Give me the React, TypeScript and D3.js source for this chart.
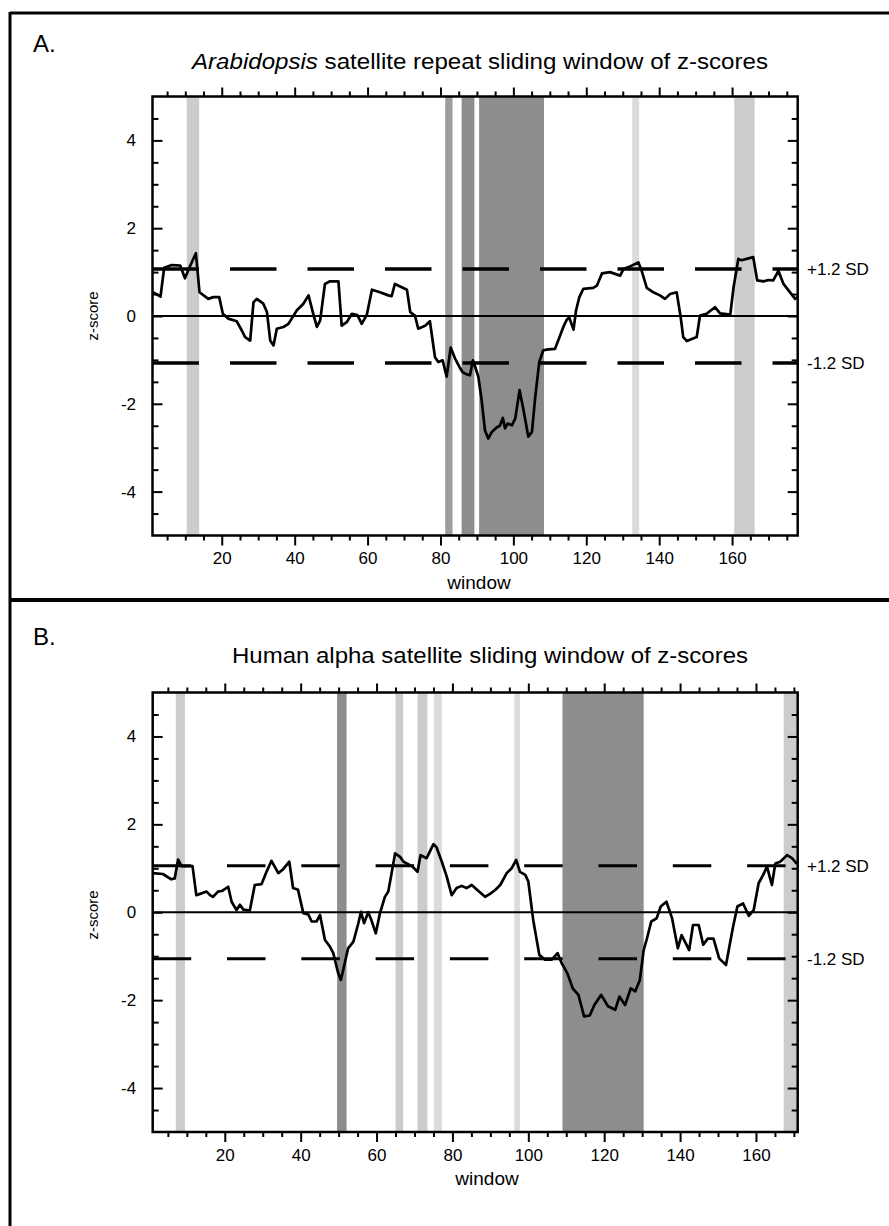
import React, { useRef, useEffect } from 'react';
import * as d3 from 'd3';

// panel A: Arabidopsis satellite repeat, traced vertices (window, z-score)
const aWindows = [1, 3.2, 4.2, 6.3, 8.6, 9.9, 11.1, 12.9, 13.9, 16.3, 17.7, 19.3, 20.3, 21.8, 24.1, 25.5, 26.4, 27.8, 28.7, 29.6, 31.4, 32.4, 33.3, 34.2, 35.1, 36.9, 38.3, 40.6, 42.4, 43.8, 45.1, 46.1, 47, 48.3, 49.7, 52, 52.9, 54.3, 55.7, 57.2, 58.4, 59.8, 61.2, 63.4, 65.7, 66.6, 67.5, 69.8, 70.8, 71.7, 73, 73.9, 75.8, 77.1, 78.5, 79.4, 80.6, 81.7, 82.8, 84, 85.2, 86.1, 87.2, 88.1, 88.9, 89.5, 90.4, 91.3, 92.2, 93.1, 94.1, 95.4, 96.3, 97.1, 97.7, 98.4, 99.6, 100.5, 101.7, 102.8, 104.1, 105.1, 106, 107.1, 108.2, 109.6, 111.4, 112.3, 113.7, 114.6, 115.3, 116.5, 117.2, 118.1, 119.2, 121.9, 122.9, 124.3, 126.5, 129.3, 130.2, 132, 134.3, 135.2, 136.6, 138.4, 140.2, 141.6, 143, 144.8, 145.9, 146.6, 147.6, 150.3, 151.2, 153, 155.3, 156.7, 159.5, 160.4, 161.7, 162.6, 164, 165.8, 166.9, 168.6, 170, 171.3, 172.7, 174.1, 175.9, 177.3, 178];
const aScores = [0.55, 0.44, 1.1, 1.16, 1.15, 0.86, 1.1, 1.43, 0.54, 0.39, 0.43, 0.43, 0.05, -0.06, -0.12, -0.33, -0.48, -0.56, 0.31, 0.39, 0.28, 0.09, -0.56, -0.67, -0.29, -0.25, -0.18, 0.13, 0.28, 0.47, 0.05, -0.25, -0.1, 0.73, 0.79, 0.79, -0.22, -0.14, 0.05, 0.02, -0.18, 0.03, 0.6, 0.54, 0.47, 0.45, 0.73, 0.64, 0.6, 0.09, 0.01, -0.29, -0.22, -0.12, -0.94, -1.05, -1.01, -1.38, -0.72, -0.97, -1.16, -1.28, -1.33, -1.35, -1.01, -1.15, -1.39, -1.92, -2.6, -2.79, -2.64, -2.54, -2.5, -2.32, -2.56, -2.45, -2.49, -2.34, -1.69, -2.15, -2.75, -2.64, -1.84, -1.05, -0.78, -0.76, -0.75, -0.56, -0.25, -0.09, -0.03, -0.31, 0.13, 0.43, 0.62, 0.64, 0.69, 0.97, 1.0, 0.92, 1.07, 1.13, 1.22, 1.03, 0.64, 0.54, 0.47, 0.39, 0.5, 0.54, -0.03, -0.48, -0.57, -0.48, 0.01, 0.05, 0.2, 0.06, 0.03, 0.65, 1.3, 1.27, 1.3, 1.34, 0.81, 0.79, 0.82, 0.81, 1.03, 0.73, 0.54, 0.39, 0.43];

// panel B: human alpha satellite
const bWindows = [1, 3.7, 5.9, 6.8, 7.7, 8.6, 11.5, 12.5, 13.9, 15.2, 16.1, 16.9, 18.2, 19.4, 20.9, 21.8, 23.1, 24, 24.9, 26.6, 27.9, 29.7, 31, 32.3, 34.1, 35.4, 37, 38, 39.3, 40.7, 42, 42.9, 44.2, 45.1, 46.4, 47.7, 48.6, 49.9, 50.6, 51.4, 52.5, 53.9, 55.2, 55.9, 56.7, 57.8, 58.6, 59.8, 60.9, 62.2, 63.1, 64.9, 66.2, 67.1, 69.3, 70.8, 71.6, 73.2, 75, 75.8, 77.2, 78.5, 79.8, 81.1, 82.4, 83.7, 85.1, 86.4, 88.6, 89.9, 91.2, 92.6, 94.3, 95.6, 96.8, 97.8, 99.2, 100, 101.3, 102.9, 104.4, 106.2, 107.7, 108.8, 110.3, 111.7, 113.2, 114.7, 116.2, 117.4, 119.2, 121, 122.9, 124, 125.5, 127, 128.2, 129.4, 130.4, 131.2, 132.4, 133.8, 134.9, 136.4, 137.9, 139.4, 140.4, 142.4, 143.4, 144.9, 146.1, 147.3, 148.8, 150.3, 152.1, 153.9, 155.1, 156.6, 158.1, 159.4, 160.7, 161.9, 162.9, 164.2, 165.1, 166.4, 168.2, 169.5, 170.8];
const bScores = [0.89, 0.87, 0.75, 0.77, 1.2, 1.05, 1.05, 0.39, 0.43, 0.47, 0.39, 0.35, 0.47, 0.49, 0.58, 0.24, 0.05, 0.17, 0.06, 0.04, 0.62, 0.64, 0.92, 1.17, 0.89, 0.98, 1.15, 0.55, 0.51, -0.02, -0.05, -0.21, -0.21, -0.06, -0.63, -0.78, -0.93, -1.39, -1.54, -1.24, -0.82, -0.67, -0.25, 0.01, -0.25, 0, -0.17, -0.48, -0.02, 0.35, 0.47, 1.34, 1.26, 1.15, 1.05, 0.92, 1.3, 1.23, 1.55, 1.48, 1.15, 0.81, 0.39, 0.55, 0.6, 0.55, 0.62, 0.52, 0.35, 0.42, 0.5, 0.62, 0.89, 1.0, 1.19, 0.92, 0.85, 0.7, -0.18, -0.97, -1.08, -1.08, -0.93, -1.16, -1.39, -1.73, -1.88, -2.37, -2.35, -2.11, -1.88, -2.14, -2.22, -1.92, -2.11, -1.73, -1.8, -1.54, -0.86, -0.62, -0.21, -0.14, 0.13, 0.24, -0.14, -0.82, -0.52, -0.86, -0.29, -0.29, -0.74, -0.6, -0.6, -1.05, -1.2, -0.36, 0.13, 0.2, -0.08, 0.05, 0.66, 0.85, 1.04, 0.62, 1.11, 1.15, 1.3, 1.23, 1.1];

// shaded windows
const aBandFrom = [10.4, 81.3, 85.8, 90.6, 132.6, 160.6];
const aBandTo = [13.8, 83.3, 89.3, 108.4, 134.5, 166.2];
const aBandShade = ['light', 'mid', 'dark', 'dark', 'faint', 'light'];
const bBandFrom = [7.1, 49.6, 65, 70.8, 75.1, 96.3, 109, 167.3];
const bBandTo = [9.5, 52.1, 67, 73.4, 77.2, 97.8, 130.4, 171];
const bBandShade = ['light', 'dark', 'light', 'light', 'faint', 'faint', 'dark', 'light'];

const xLabelTicks = [20, 40, 60, 80, 100, 120, 140, 160];
const yLabelTicks = [-4, -2, 0, 2, 4];
const sdLabels = ['+1.2 SD', '-1.2 SD'];
const aSdLevel = 1.07;
const bSdLevel = 1.06;

const shades = { faint: '#dbdbdb', light: '#cccccc', mid: '#9c9c9c', dark: '#8d8d8d' };
const FONT = "'Liberation Sans', Arial, Helvetica, sans-serif";

const drawPanel = (svg, p) => {
  const x = d3.scaleLinear().domain([1, p.xMax]).range([p.left, p.right]);
  const y = d3.scaleLinear().domain([-5, 5]).range([p.bottom, p.top]);
  const g = svg.append('g');

  // bands
  g.selectAll('rect.band')
    .data(p.bands)
    .enter()
    .append('rect')
    .attr('x', (d) => x(d.from))
    .attr('width', (d) => x(d.to) - x(d.from))
    .attr('y', p.top)
    .attr('height', p.bottom - p.top)
    .attr('fill', (d) => shades[d.shade]);

  // zero + SD lines
  g.append('line')
    .attr('x1', p.left).attr('x2', p.right)
    .attr('y1', y(0)).attr('y2', y(0))
    .attr('stroke', '#000').attr('stroke-width', 2);
  [p.sd, -p.sd].forEach((v, i) => {
    g.append('line')
      .attr('x1', p.left).attr('x2', p.right)
      .attr('y1', y(v)).attr('y2', y(v))
      .attr('stroke', '#000')
      .attr('stroke-width', p.dashWidth)
      .attr('stroke-dasharray', p.dash);
    g.append('text')
      .attr('x', 807).attr('y', y(v))
      .attr('dy', '0.35em')
      .attr('font-family', FONT).attr('font-size', 17)
      .text(sdLabels[i]);
  });

  // z-score trace
  const line = d3.line().x((d) => x(d[0])).y((d) => y(d[1]));
  g.append('path')
    .datum(p.windows.map((w, i) => [w, p.scores[i]]))
    .attr('d', line)
    .attr('fill', 'none')
    .attr('stroke', '#000')
    .attr('stroke-width', 2.7)
    .attr('stroke-linejoin', 'round');

  // frame
  g.append('rect')
    .attr('x', p.left).attr('y', p.top)
    .attr('width', p.right - p.left).attr('height', p.bottom - p.top)
    .attr('fill', 'none').attr('stroke', '#000').attr('stroke-width', 2.5);

  const xMinor = d3.range(5, p.xMax, 5).filter((v) => v % 20 !== 0);
  const yMinor = d3.range(-4.5, 5, 0.5).filter((v) => v % 2 !== 0);

  const axes = [
    [d3.axisBottom(x).tickValues(xMinor).tickSize(5).tickFormat(''), `translate(0,${p.bottom})`],
    [d3.axisBottom(x).tickValues(xLabelTicks).tickSize(10).tickPadding(6.5).tickFormat((d) => String(d)), `translate(0,${p.bottom})`],
    [d3.axisTop(x).tickValues(xMinor).tickSize(5).tickFormat(''), `translate(0,${p.top})`],
    [d3.axisTop(x).tickValues(xLabelTicks).tickSize(9).tickFormat(''), `translate(0,${p.top})`],
    [d3.axisLeft(y).tickValues(yMinor).tickSize(-6).tickFormat(''), `translate(${p.left},0)`],
    [d3.axisLeft(y).tickValues(yLabelTicks).tickSize(-10).tickPadding(16.5).tickFormat((d) => String(d)), `translate(${p.left},0)`],
    [d3.axisRight(y).tickValues(yMinor).tickSize(-6).tickFormat(''), `translate(${p.right},0)`],
    [d3.axisRight(y).tickValues(yLabelTicks).tickSize(-10).tickFormat(''), `translate(${p.right},0)`]
  ];
  axes.forEach(([ax, tr]) => {
    const a = g.append('g').attr('transform', tr).call(ax.tickSizeOuter(0));
    a.select('.domain').remove();
    a.selectAll('line').attr('stroke', '#000').attr('stroke-width', 2);
    a.selectAll('text').attr('font-family', FONT).attr('font-size', 17).attr('fill', '#000');
  });

  // labels
  const title = g.append('text')
    .attr('x', p.titleX).attr('y', p.titleY)
    .attr('text-anchor', 'middle')
    .attr('font-family', FONT).attr('font-size', 22)
    .attr('textLength', p.titleWidth).attr('lengthAdjust', 'spacingAndGlyphs');
  if (p.titleItalic) title.append('tspan').attr('font-style', 'italic').text(p.titleItalic);
  title.append('tspan').text(p.title);

  g.append('text')
    .attr('x', 33).attr('y', p.letterY)
    .attr('font-family', FONT).attr('font-size', 24)
    .text(p.letter);

  g.append('text')
    .attr('x', p.windowX).attr('y', p.bottom + 53)
    .attr('text-anchor', 'middle')
    .attr('font-family', FONT).attr('font-size', 19)
    .text('window');

  g.append('text')
    .attr('transform', `translate(98,${p.zLabelY}) rotate(-90)`)
    .attr('text-anchor', 'middle')
    .attr('font-family', FONT).attr('font-size', 15)
    .text('z-score');
};

const App = () => {
  const ref = useRef(null);

  useEffect(() => {
    const svg = d3.select(ref.current);
    svg.selectAll('*').remove();

    svg.append('rect').attr('width', 889).attr('height', 1226).attr('fill', '#fff');

    // figure borders
    svg.append('line').attr('x1', 10).attr('x2', 889).attr('y1', 13).attr('y2', 13)
      .attr('stroke', '#000').attr('stroke-width', 3);
    svg.append('line').attr('x1', 10).attr('x2', 10).attr('y1', 12).attr('y2', 1226)
      .attr('stroke', '#000').attr('stroke-width', 3);
    svg.append('line').attr('x1', 10).attr('x2', 889).attr('y1', 600).attr('y2', 600)
      .attr('stroke', '#000').attr('stroke-width', 4);

    drawPanel(svg, {
      windows: aWindows,
      scores: aScores,
      bands: aBandFrom.map((f, i) => ({ from: f, to: aBandTo[i], shade: aBandShade[i] })),
      sd: aSdLevel,
      xMax: 178,
      left: 152.5, right: 797.7, top: 96.5, bottom: 535.5,
      dash: '46.5 31', dashWidth: 3.5,
      titleItalic: 'Arabidopsis', title: ' satellite repeat sliding window of z-scores',
      titleX: 480, titleY: 69, titleWidth: 576,
      letter: 'A.', letterY: 52,
      windowX: 479, zLabelY: 316
    });

    drawPanel(svg, {
      windows: bWindows,
      scores: bScores,
      bands: bBandFrom.map((f, i) => ({ from: f, to: bBandTo[i], shade: bBandShade[i] })),
      sd: bSdLevel,
      xMax: 171,
      left: 152.7, right: 797.7, top: 692.5, bottom: 1132,
      dash: '38.5 35.8', dashWidth: 3,
      titleItalic: null, title: 'Human alpha satellite sliding window of z-scores',
      titleX: 490, titleY: 663, titleWidth: 516,
      letter: 'B.', letterY: 645,
      windowX: 487, zLabelY: 915
    });
  }, []);

  return (
    <svg
      ref={ref}
      width={889}
      height={1226}
      style={{ position: 'absolute', left: 0, top: 0, display: 'block' }}
    />
  );
};

export default App;
